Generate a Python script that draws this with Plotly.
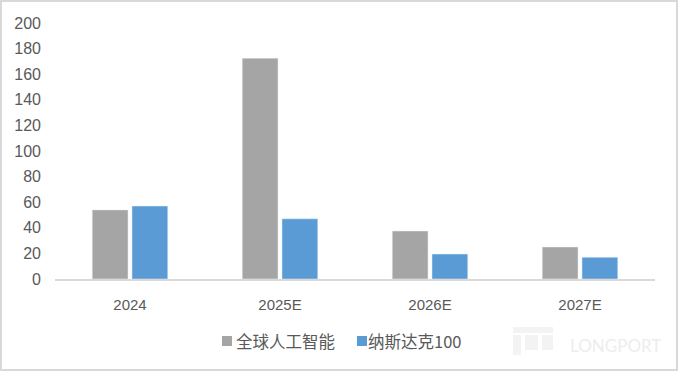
import plotly.graph_objects as go

categories = ["2024", "2025E", "2026E", "2027E"]
global_ai = [54, 172.5, 37.5, 25]
nasdaq100 = [57, 47, 19.5, 17]
series_names = ["全球人工智能", "纳斯达克100"]
series_colors = ["#A5A5A5", "#5B9BD5"]
y_ticks = [0, 20, 40, 60, 80, 100, 120, 140, 160, 180, 200]

W, H = 678, 371
L, R, T, B = 55, 23, 23, 92
pw, ph = W - L - R, H - T - B

def px(x):
    return (x - L) / pw

def py(y):
    return (H - B - y) / ph

font_fam = "Liberation Sans, Arial, sans-serif"
txt = "#595959"

fig = go.Figure()
fig.add_trace(go.Bar(x=categories, y=global_ai, name=series_names[0], marker_color=series_colors[0]))
fig.add_trace(go.Bar(x=categories, y=nasdaq100, name=series_names[1], marker_color=series_colors[1]))

fig.update_layout(
    width=W, height=H,
    margin=dict(l=L, r=R, t=T, b=B),
    paper_bgcolor="white", plot_bgcolor="white",
    barmode="group", bargap=0.47, bargroupgap=0.1,
    font=dict(family=font_fam, size=15, color=txt),
    showlegend=False,
    xaxis=dict(showgrid=False, showline=True, linecolor="#D9D9D9", linewidth=1.5,
               ticks="", ticklabelstandoff=11, tickfont=dict(size=15, color=txt)),
    yaxis=dict(range=[0, 200], tickvals=y_ticks, showgrid=False, zeroline=False,
               showline=False, ticks="", ticklabelstandoff=13, tickfont=dict(size=16, color=txt)),
)

# legend (drawn manually to match spacing)
legend_pos = [(222, 234), (357, 366)]
for (sx, tx), name, col in zip(legend_pos, series_names, series_colors):
    fig.add_shape(type="rect", xref="paper", yref="paper",
                  x0=px(sx), x1=px(sx + 10), y0=py(346), y1=py(336),
                  line=dict(width=0), fillcolor=col)
    fig.add_annotation(xref="paper", yref="paper", x=px(tx), y=py(341), text=name,
                       showarrow=False, xanchor="left", yanchor="middle",
                       font=dict(family="Noto Sans CJK SC, " + font_fam, size=16.5, color=txt))

# outer border
fig.add_shape(type="rect", xref="paper", yref="paper",
              x0=px(1), x1=px(677), y0=py(370), y1=py(1),
              line=dict(color="#D9D9D9", width=2), fillcolor="rgba(0,0,0,0)", layer="above")

# watermark
fig.add_annotation(xref="paper", yref="paper", x=px(615), y=py(345), text="LONGPORT",
                   showarrow=False, font=dict(family="Lato, " + font_fam, size=17, color="#EDEDED"),
                   xanchor="center", yanchor="middle")
for (x0, x1, y0, y1) in [(513, 553, 327, 333), (513, 521, 335, 355), (525, 538, 335, 350), (542, 553, 335, 350)]:
    fig.add_shape(type="rect", xref="paper", yref="paper", x0=px(x0), x1=px(x1), y0=py(y1), y1=py(y0),
                  line=dict(width=0), fillcolor="#F3F3F3", layer="below")

fig.write_html("out.html")
